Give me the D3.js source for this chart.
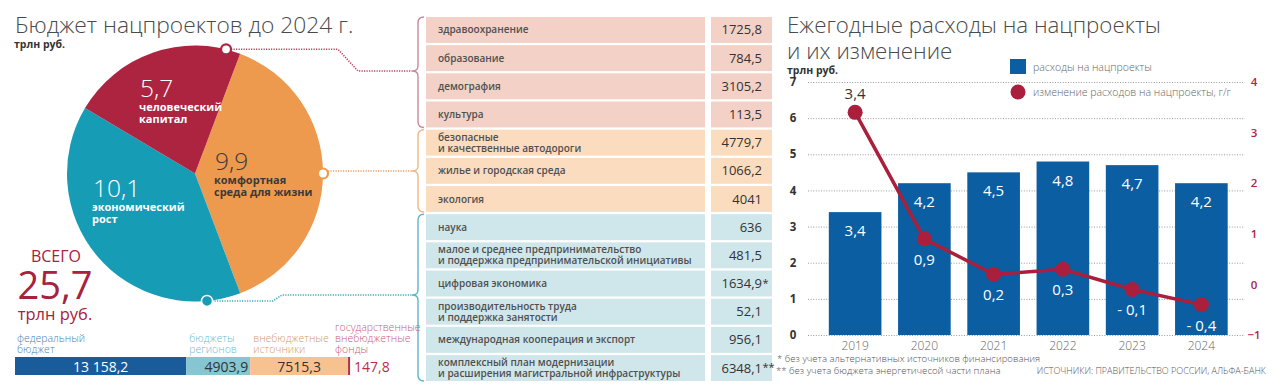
<!DOCTYPE html>
<html><head><meta charset="utf-8">
<script src="https://cdn.jsdelivr.net/npm/d3@7"></script>
<style>
html,body{margin:0;padding:0;background:#fff;}
svg{display:block;font-family:"Open Sans","Noto Sans",sans-serif;}
</style></head><body>
<svg id="c" width="1280" height="388"></svg>
<script>
// ---------- DATA ----------
const pieCategories = [["комфортная","среда для жизни"],["экономический","рост"],["человеческий","капитал"]];
const pieValues = [9.9, 10.1, 5.7];
const pieValueLabels = ["9,9","10,1","5,7"];
const totalLabel = "25,7";

const sourceLabels = [["федеральный","бюджет"],["бюджеты","регионов"],["внебюджетные","источники"],["государственные","внебюджетные","фонды"]];
const sourceValues = [13158.2, 4903.9, 7515.3, 147.8];

const tableLabels = [["здравоохранение"],["образование"],["демография"],["культура"],
  ["безопасные","и качественные автодороги"],["жилье и городская среда"],["экология"],
  ["наука"],["малое и среднее предпринимательство","и поддержка предпринимательской инициативы"],
  ["цифровая экономика"],["производительность труда","и поддержка занятости"],
  ["международная кооперация и экспорт"],["комплексный план модернизации","и расширения магистральной инфраструктуры"]];
const tableValues = [1725.8, 784.5, 3105.2, 113.5, 4779.7, 1066.2, 4041, 636, 481.5, 1634.9, 52.1, 956.1, 6348.1];
const tableNotes = ["","","","","","","","","","*","","","**"];
const tableGroups = [2,2,2,2,0,0,0,1,1,1,1,1,1];

const years = ["2019","2020","2021","2022","2023","2024"];
const spending = [3.4, 4.2, 4.5, 4.8, 4.7, 4.2];
const change = [3.4, 0.9, 0.2, 0.3, -0.1, -0.4];
const leftTicks = [0,1,2,3,4,5,6,7];
const rightTicks = [-1,0,1,2,3,4];

// ---------- STYLE ----------
const pieColors = ["#ee9a4e","#179cb6","#ad2441"];
const rowColors = ["#fbdcbf","#cfe6eb","#f3d1c6"];
const bracketColors = ["#f2b783","#5db6c8","#c9899a"];
const connColors = ["#e9a066","#3aa9bf","#b5405a"];
const srcColors = ["#185c9c","#86c5d2","#f7c290","#b42f4b"];
const srcTextColors = ["#4c7fae","#6bbccc","#d39a6c","#c85a7b"];
const blue = "#0c5ea3", red = "#a91f3c";

const svg = d3.select("#c");
const fmt = v => (Number.isInteger(v) ? String(v) : v.toFixed(1)).replace(".", ",");
const fmtSrc = v => {
  let s = v.toFixed(1).replace(".", ",");
  if (v >= 10000) s = s.replace(/^(\d+)(\d{3}),/, "$1 $2,");
  return s;
};

// ---------- LEFT: title ----------
svg.append("text").attr("x",15).attr("y",33).attr("font-size",22.8).attr("font-weight",300)
  .attr("fill","#4a4a4a").text("Бюджет нацпроектов до 2024 г.");
svg.append("text").attr("x",14).attr("y",48).attr("font-size",10.5).attr("font-weight",700)
  .attr("fill","#333").text("трлн руб.");

// ---------- PIE ----------
const cx = 195, cy = 173.5, R = 128;
const a0 = 0.36;
const pie = d3.pie().sort(null).value(d => d).startAngle(a0).endAngle(a0 + 2*Math.PI);
const arcs = pie(pieValues);
const arc = d3.arc().innerRadius(0).outerRadius(R);
const pg = svg.append("g").attr("transform",`translate(${cx},${cy})`);
pg.selectAll("path").data(arcs).join("path").attr("d",arc).attr("fill",(d,i)=>pieColors[i]);

const numOff = [[20,-4],[-102,23],[-55,-77]];
const numColor = ["#3a3a3a","#fff","#fff"];
arcs.forEach((d,i)=>{
  pg.append("text").attr("x",numOff[i][0]).attr("y",numOff[i][1]).attr("font-size",24.5)
    .attr("font-weight",300).attr("fill",numColor[i]).text(pieValueLabels[i]);
  pieCategories[i].forEach((t,j)=>{
    pg.append("text").attr("x",numOff[i][0]-1).attr("y",numOff[i][1]+14+j*12.5)
      .attr("font-size",11).attr("font-weight",700).attr("fill",numColor[i]).text(t);
  });
});

// ---------- TABLE ----------
const rowY = d3.scaleBand().domain(d3.range(tableValues.length)).range([17, 381]).paddingInner(0.08);
const tg = svg.append("g");
tableValues.forEach((v,i)=>{
  const y = rowY(i), h = rowY.bandwidth(), g = tableGroups[i];
  tg.append("rect").attr("x",426).attr("y",y).attr("width",279).attr("height",h).attr("fill",rowColors[g]);
  tg.append("rect").attr("x",711).attr("y",y).attr("width",61).attr("height",h).attr("fill",rowColors[g]);
  const lines = tableLabels[i];
  lines.forEach((t,j)=>{
    const base = lines.length === 1 ? y + h/2 + 3.5 : y + h/2 - 2 + j*11;
    tg.append("text").attr("x",438).attr("y",base).attr("font-size",10).attr("font-weight",600)
      .attr("fill","#505050").text(t);
  });
  tg.append("text").attr("x",762).attr("y",y+h/2+4.5).attr("text-anchor","end").attr("font-size",13)
    .attr("fill","#333").text(fmt(v));
  if (tableNotes[i]) tg.append("text").attr("x",762.5).attr("y",y+h/2+3).attr("font-size",11)
    .attr("fill","#333").text(tableNotes[i]);
});

// brackets & connectors
const groupIdx = [2,0,1];
const conY = {};
groupIdx.forEach(g=>{
  const idx = d3.range(tableValues.length).filter(i=>tableGroups[i]===g);
  const y0 = rowY(idx[0]), y1 = rowY(idx[idx.length-1]) + rowY.bandwidth();
  const ym = g===2 ? 71 : g===0 ? 171 : 295;
  conY[g] = ym;
  const xb = 418;
  const p = `M${xb+6},${y0} Q${xb},${y0} ${xb},${y0+6} L${xb},${ym-5} Q${xb},${ym} ${xb-6},${ym} Q${xb},${ym} ${xb},${ym+5} L${xb},${y1-6} Q${xb},${y1} ${xb+6},${y1}`;
  svg.append("path").attr("d",p).attr("fill","none").attr("stroke",bracketColors[g]).attr("stroke-width",1.4);
});
// dots on pie rim
const dotAng = [Math.PI/2, Math.PI - 0.094, 0.245];
const pt = a => [cx + R*Math.sin(a), cy - R*Math.cos(a)];
const dRed = pt(dotAng[2]), dOr = pt(dotAng[0]), dTe = pt(dotAng[1]);
const dash = "1.2,1.3";
svg.append("path").attr("d",`M${dRed[0]},${dRed[1]} L338,${dRed[1]} L358,${conY[2]} L412,${conY[2]}`)
  .attr("fill","none").attr("stroke",connColors[2]).attr("stroke-width",1.6).attr("stroke-dasharray",dash);
svg.append("path").attr("d",`M${dOr[0]},${conY[0]} L412,${conY[0]}`)
  .attr("fill","none").attr("stroke",connColors[0]).attr("stroke-width",1.6).attr("stroke-dasharray",dash);
svg.append("path").attr("d",`M${dTe[0]},${dTe[1]} L273,${dTe[1]} L282,${conY[1]} L412,${conY[1]}`)
  .attr("fill","none").attr("stroke",connColors[1]).attr("stroke-width",1.6).attr("stroke-dasharray",dash);
svg.append("circle").attr("cx",dRed[0]).attr("cy",dRed[1]).attr("r",5).attr("fill","#fff").attr("stroke",pieColors[2]).attr("stroke-width",2.2);
svg.append("circle").attr("cx",dOr[0]).attr("cy",dOr[1]).attr("r",5).attr("fill","#fff").attr("stroke",pieColors[0]).attr("stroke-width",2.2);
svg.append("circle").attr("cx",dTe[0]).attr("cy",dTe[1]).attr("r",5.5).attr("fill",pieColors[1]).attr("stroke","#fff").attr("stroke-width",1.5);

// ---------- TOTAL ----------
svg.append("text").attr("x",56).attr("y",262).attr("text-anchor","middle").attr("font-size",16)
  .attr("fill","#a8213e").text("ВСЕГО");
svg.append("text").attr("x",55).attr("y",299).attr("text-anchor","middle").attr("font-size",38)
  .attr("fill","#a8213e").text(totalLabel);
svg.append("text").attr("x",55).attr("y",320).attr("text-anchor","middle").attr("font-size",16.5)
  .attr("fill","#a8213e").text("трлн руб.");

// ---------- SOURCES stacked bar ----------
const total = d3.sum(sourceValues);
const sx = d3.scaleLinear().domain([0,total]).range([15,350]);
let acc = 0;
const segs = sourceValues.map(v=>{ const s = {x0:sx(acc), x1:sx(acc+v), v}; acc += v; return s; });
segs.forEach((s,i)=>{
  svg.append("rect").attr("x",s.x0).attr("y",357).attr("width",Math.max(2,s.x1-s.x0)).attr("height",18)
    .attr("fill",srcColors[i]);
  const lx = i===3 ? s.x0-13 : s.x0 + (i===0 ? 2 : 3);
  const ly0 = 353 - (sourceLabels[i].length-1)*11;
  sourceLabels[i].forEach((t,j)=>{
    svg.append("text").attr("x",lx).attr("y",ly0+j*11).attr("font-size",10.5).attr("font-weight",300)
      .attr("fill",srcTextColors[i]).text(t);
  });
  let tx, anchor;
  if (i===0 || i===2) { tx = (s.x0+s.x1)/2; anchor="middle"; }
  else if (i===1) { tx = s.x1-2; anchor="end"; }
  else { tx = s.x1+4; anchor="start"; }
  svg.append("text").attr("x",tx).attr("y",371.5).attr("text-anchor",anchor).attr("font-size",14)
    .attr("fill", i===0 ? "#fff" : i===3 ? "#b42f4b" : "#333").text(fmtSrc(s.v));
});

// ---------- RIGHT CHART ----------
svg.append("text").attr("x",787).attr("y",33).attr("font-size",22.3).attr("font-weight",300)
  .attr("fill","#4a4a4a").text("Ежегодные расходы на нацпроекты");
svg.append("text").attr("x",787).attr("y",59).attr("font-size",22.3).attr("font-weight",300)
  .attr("fill","#4a4a4a").text("и их изменение");
svg.append("text").attr("x",787).attr("y",74).attr("font-size",10.5).attr("font-weight",700)
  .attr("fill","#333").text("трлн руб.");

const yL = d3.scaleLinear().domain([0,7]).range([335,82]);
const yR = d3.scaleLinear().domain([-1,4]).range([335,82]);
const xB = d3.scaleBand().domain(years).range([820.5,1236]).paddingInner(0.24).paddingOuter(0.12);

const gL = svg.append("g").attr("transform","translate(808,0)")
  .call(d3.axisLeft(yL).tickValues(leftTicks).tickSize(-437).tickPadding(12).tickFormat(d3.format("d")));
gL.select(".domain").remove();
gL.selectAll(".tick line").attr("stroke","#9a9a9a").attr("stroke-dasharray","1,1.6");
gL.selectAll(".tick text").attr("font-size",11.5).attr("font-weight",700).attr("fill","#333")
  .attr("font-family","'Open Sans',sans-serif").attr("text-anchor","middle").attr("x",-15);

const gR = svg.append("g").attr("transform","translate(1245,0)")
  .call(d3.axisRight(yR).tickValues(rightTicks).tickSize(0).tickPadding(9).tickFormat(d3.format("d")));
gR.select(".domain").remove();
gR.selectAll(".tick text").attr("font-size",11.5).attr("font-weight",600).attr("fill","#b0243f")
  .attr("font-family","'Open Sans',sans-serif").attr("text-anchor","middle").attr("x",9);

// bars
svg.append("g").selectAll("rect").data(spending).join("rect")
  .attr("x",(d,i)=>xB(years[i])).attr("width",xB.bandwidth())
  .attr("y",d=>yL(d)).attr("height",d=>yL(0)-yL(d)).attr("fill",blue);
svg.append("g").selectAll("text").data(spending).join("text")
  .attr("x",(d,i)=>xB(years[i])+xB.bandwidth()/2).attr("y",d=>yL(d)+24)
  .attr("text-anchor","middle").attr("font-size",15).attr("fill","#fff").text(d=>fmt(d));

const gX = svg.append("g").attr("transform","translate(0,335)")
  .call(d3.axisBottom(xB).tickSize(0).tickPadding(6.5));
gX.select(".domain").remove();
gX.selectAll(".tick text").attr("font-size",12).attr("font-weight",300).attr("fill","#666")
  .attr("font-family","'Open Sans',sans-serif");

// line
const cxOf = i => xB(years[i]) + xB.bandwidth()/2;
svg.append("path").datum(change)
  .attr("d", d3.line().x((d,i)=>cxOf(i)).y(d=>yR(d)))
  .attr("fill","none").attr("stroke",red).attr("stroke-width",3.5);
svg.append("g").selectAll("circle").data(change).join("circle")
  .attr("cx",(d,i)=>cxOf(i)).attr("cy",d=>yR(d)).attr("r",7.5).attr("fill",red);
svg.append("g").selectAll("text").data(change).join("text")
  .attr("x",(d,i)=>cxOf(i)).attr("y",(d,i)=> i===0 ? yR(d)-13 : yR(d)+26)
  .attr("text-anchor","middle").attr("font-size",15).attr("fill",(d,i)=> i===0 ? "#333" : "#fff")
  .text(d => d < 0 ? "- " + fmt(-d) : fmt(d));

// legend
svg.append("rect").attr("x",1010).attr("y",59).attr("width",16).attr("height",15).attr("fill",blue);
svg.append("text").attr("x",1033).attr("y",70.5).attr("font-size",10.5).attr("font-weight",300)
  .attr("fill","#666").text("расходы на нацпроекты");
svg.append("circle").attr("cx",1018).attr("cy",92).attr("r",7.5).attr("fill",red);
svg.append("text").attr("x",1033).attr("y",95.5).attr("font-size",10.5).attr("font-weight",300)
  .attr("fill","#666").text("изменение расходов на нацпроекты, г/г");

// footnotes
svg.append("text").attr("x",777).attr("y",362).attr("font-size",9.6).attr("font-weight",300)
  .attr("fill","#555").text("* без учета альтернативных источников финансирования");
svg.append("text").attr("x",776).attr("y",373.5).attr("font-size",9.6).attr("font-weight",300)
  .attr("fill","#555").text("** без учета бюджета энергетичесой части плана");
svg.append("text").attr("x",1266).attr("y",374).attr("text-anchor","end").attr("font-size",9).attr("font-weight",300)
  .attr("fill","#555").text("ИСТОЧНИКИ: ПРАВИТЕЛЬСТВО РОССИИ, АЛЬФА-БАНК");
</script></body></html>
